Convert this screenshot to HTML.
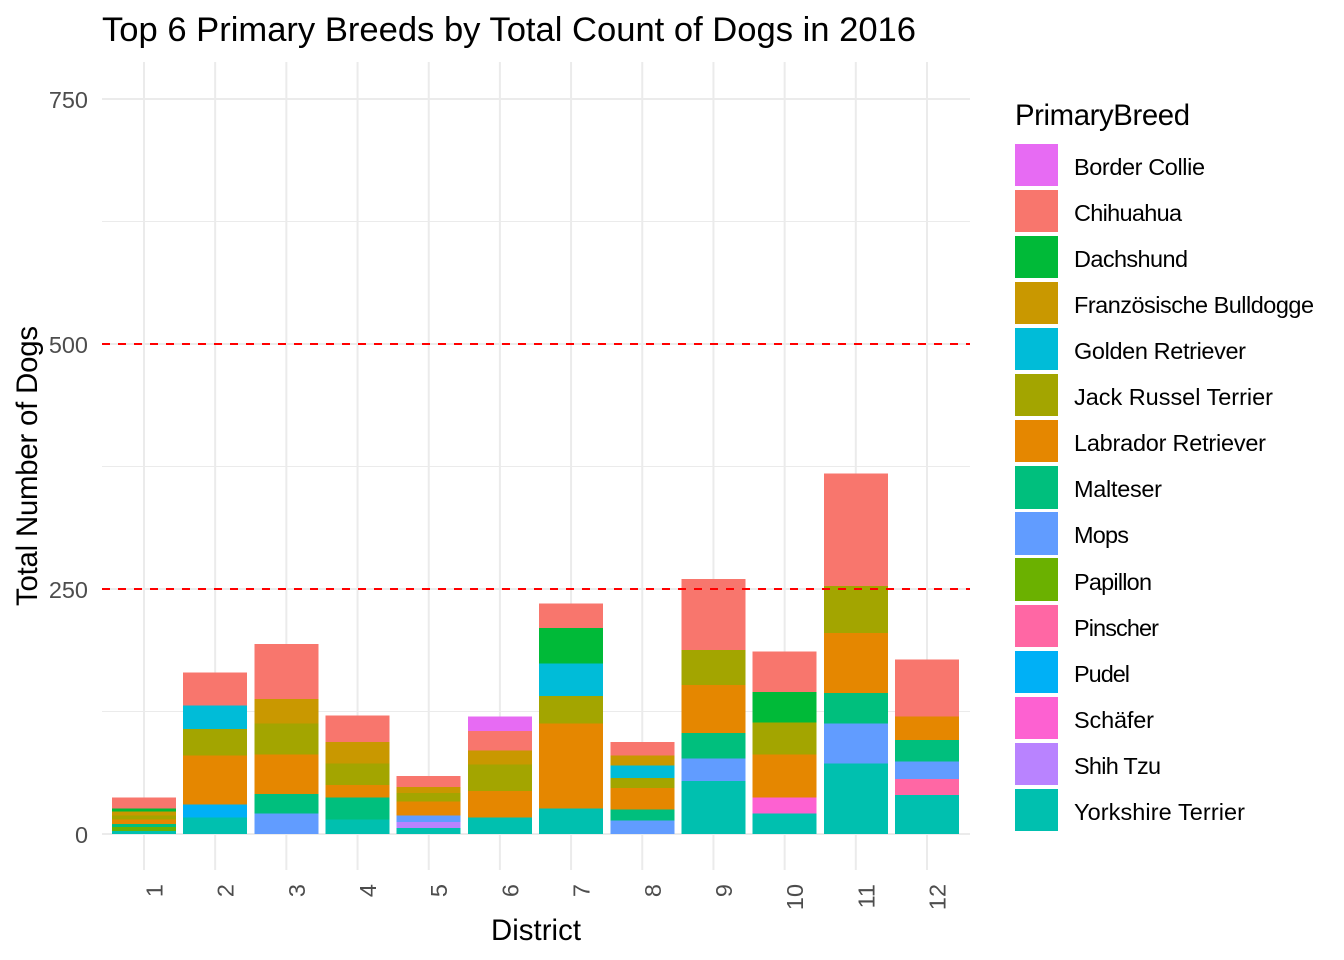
<!DOCTYPE html>
<html lang="en">
<head>
<meta charset="utf-8">
<title>Top 6 Primary Breeds by Total Count of Dogs in 2016</title>
<style>
  html, body { margin: 0; padding: 0; background: #fff; }
  svg { display: block; font-family: "Liberation Sans", Arial, sans-serif; }
</style>
</head>
<body>
<svg id="chart" width="1344" height="960" viewBox="0 0 1344 960" xmlns="http://www.w3.org/2000/svg">
  <rect x="0" y="0" width="1344" height="960" fill="#ffffff"/>
  <text x="102" y="41" font-size="34.6" textLength="814" lengthAdjust="spacing" fill="#000">Top 6 Primary Breeds by Total Count of Dogs in 2016</text>
  <text transform="translate(37,466) rotate(-90)" text-anchor="middle" font-size="29.33" textLength="280" lengthAdjust="spacing" fill="#000">Total Number of Dogs</text>
  <text x="536" y="940" text-anchor="middle" font-size="29.33" textLength="90" lengthAdjust="spacing" fill="#000">District</text>
  <text x="1015" y="125" font-size="29.33" textLength="175" lengthAdjust="spacing" fill="#000">PrimaryBreed</text>
  <g id="grid"></g>
  <g id="bars"></g>
  <g id="refs"></g>
  <g id="xticks"></g>
  <g id="yticks"></g>
  <g id="legend"></g>
</svg>
<script>
const districts = [1, 2, 3, 4, 5, 6, 7, 8, 9, 10, 11, 12];
const yTicks = [0, 250, 500, 750];
const yMinorTicks = [125, 375, 625];
const thresholds = [250, 500];
const breeds = ["Border Collie", "Chihuahua", "Dachshund", "Französische Bulldogge", "Golden Retriever", "Jack Russel Terrier", "Labrador Retriever", "Malteser", "Mops", "Papillon", "Pinscher", "Pudel", "Schäfer", "Shih Tzu", "Yorkshire Terrier"];
const borderCollie = [0, 0, 0, 0, 0, 15, 0, 0, 0, 0, 0, 0];
const chihuahua = [11, 34, 56, 27, 11, 20, 25, 14, 72, 41, 115, 58];
const dachshund = [3, 0, 0, 0, 0, 0, 36, 0, 0, 31, 0, 0];
const franzBulldogge = [4, 0, 25, 22, 6, 14, 0, 10, 0, 0, 0, 0];
const goldenRetriever = [0, 24, 0, 0, 0, 0, 33, 13, 0, 0, 0, 0];
const jackRussel = [4, 27, 32, 22, 9, 27, 28, 10, 36, 33, 48, 0];
const labrador = [5, 50, 40, 13, 14, 27, 87, 22, 49, 44, 61, 24];
const malteser = [3, 0, 20, 22, 0, 0, 0, 11, 26, 0, 31, 22];
const mops = [0, 0, 21, 0, 7, 0, 0, 14, 23, 0, 41, 18];
const papillon = [4, 0, 0, 0, 0, 0, 0, 0, 0, 0, 0, 0];
const pinscher = [0, 0, 0, 0, 0, 0, 0, 0, 0, 0, 0, 16];
const pudel = [0, 13, 0, 0, 0, 0, 0, 0, 0, 0, 0, 0];
const schaefer = [0, 0, 0, 0, 0, 0, 0, 0, 0, 16, 0, 0];
const shihTzu = [0, 0, 0, 0, 6, 0, 0, 0, 0, 0, 0, 0];
const yorkshire = [3, 17, 0, 15, 6, 17, 26, 0, 54, 21, 72, 40];
const seriesValues = [borderCollie, chihuahua, dachshund, franzBulldogge, goldenRetriever, jackRussel, labrador, malteser, mops, papillon, pinscher, pudel, schaefer, shihTzu, yorkshire];

const fillColors = ["#E76BF3", "#F8766D", "#00BA38", "#C99800", "#00BCD8", "#A3A500", "#E58700", "#00BF7D", "#619CFF", "#6BB100", "#FF67A4", "#00B0F6", "#FD61D1", "#B983FF", "#00C0AF"];
const legendLabelLengths = [131, 108, 114, 240, 172, 199, 192, 88, 55, 78, 85, 56, 80, 87, 171];

const NS = "http://www.w3.org/2000/svg";
const panel = { left: 102, right: 970, top: 62, bottom: 870 };
const xScale = function (i) { return 144 + i * 71.18; };
const yScale = function (v) { return 834 - v * 0.98; };
const barWidth = 64;

function make(tag, parent, attrs) {
  const el = document.createElementNS(NS, tag);
  Object.keys(attrs).forEach(function (k) { el.setAttribute(k, attrs[k]); });
  parent.appendChild(el);
  return el;
}
function slug(s) {
  return s.toLowerCase().replace(/ä/g, "ae").replace(/ö/g, "oe").replace(/[^a-z0-9]+/g, "-");
}

const gridG = document.getElementById("grid");
yMinorTicks.forEach(function (v) {
  const line = make("line", gridG, { x1: panel.left, x2: panel.right, y1: yScale(v), y2: yScale(v), stroke: "#EBEBEB", "stroke-width": 1 });
  
  
});
yTicks.forEach(function (v) {
  const line = make("line", gridG, { x1: panel.left, x2: panel.right, y1: yScale(v), y2: yScale(v), stroke: "#EBEBEB", "stroke-width": 2 });
  
  
});
districts.forEach(function (d, i) {
  const line = make("line", gridG, { x1: xScale(i), x2: xScale(i), y1: panel.top, y2: panel.bottom, stroke: "#EBEBEB", "stroke-width": 2 });
  
  
});

const barsG = document.getElementById("bars");
districts.forEach(function (d, i) {
  let cumulative = 0;
  for (let s = seriesValues.length - 1; s >= 0; s--) {
    const v = seriesValues[s][i];
    if (!v) continue;
    const yTop = yScale(cumulative + v);
    const yBottom = yScale(cumulative);
    const rect = make("rect", barsG, { x: xScale(i) - barWidth / 2, y: yTop, width: barWidth, height: yBottom - yTop, fill: fillColors[s], "shape-rendering": "crispEdges" });
    
    
    cumulative += v;
  }
});

const refsG = document.getElementById("refs");
thresholds.forEach(function (v) {
  const line = make("line", refsG, { x1: panel.left, x2: panel.right, y1: yScale(v), y2: yScale(v), stroke: "#FF0000", "stroke-width": 2, "stroke-dasharray": "8 8" });
  
  
});

const xG = document.getElementById("xticks");
districts.forEach(function (d, i) {
  const t = make("text", xG, { transform: "translate(" + (xScale(i) + 18.5) + ",884) rotate(-90)", "text-anchor": "end", "font-size": 23.47, fill: "#4D4D4D" });
  
  
  t.textContent = String(d);
});

const yG = document.getElementById("yticks");
yTicks.forEach(function (v) {
  const t = make("text", yG, { x: 88, y: yScale(v) + 9, "text-anchor": "end", "font-size": 23.47, fill: "#4D4D4D" });
  
  
  t.textContent = String(v);
});

const legendG = document.getElementById("legend");
breeds.forEach(function (b, i) {
  const rawTop = 143.7 + i * 46.08;
  const top = Math.round(rawTop);
  const bottom = Math.round(rawTop + 42.26);
  const item = make("g", legendG, {});
  
  
  const key = make("rect", item, { x: 1015, y: top, width: 43, height: bottom - top, fill: fillColors[i], "shape-rendering": "crispEdges" });
  
  
  const label = make("text", item, { x: 1074, y: Math.round(174.9 + i * 46.07), "font-size": 23.47, textLength: legendLabelLengths[i], lengthAdjust: "spacing", fill: "#000" });
  
  
  label.textContent = b;
});
</script>
</body>
</html>
